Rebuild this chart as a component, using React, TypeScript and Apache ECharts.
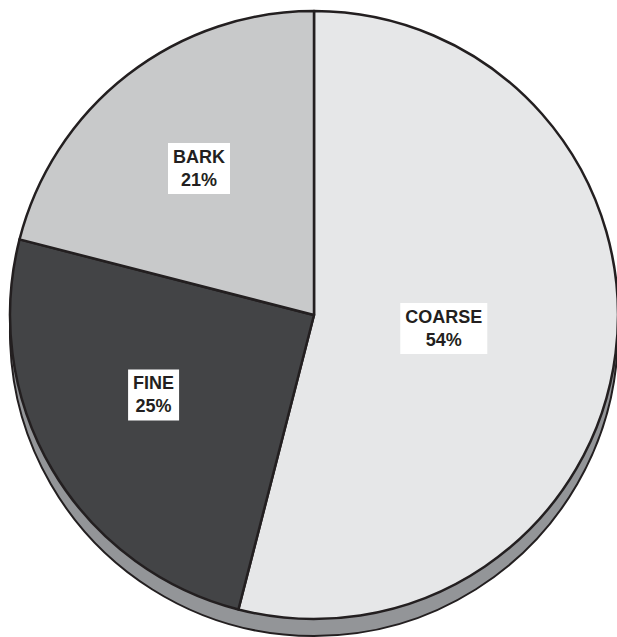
import React, { useEffect, useRef } from "react";
import * as echarts from "echarts";

const categories = ["COARSE", "FINE", "BARK"];
const values = [54, 25, 21];
const colors = ["#e6e7e8", "#434446", "#c8c9ca"];
const labelShift = [
  [-24, -6],
  [-27, 1],
  [-20, -24],
];

export default function App() {
  const ref = useRef<HTMLDivElement>(null);
  useEffect(() => {
    if (!ref.current) return;
    const chart = echarts.init(ref.current, undefined, { renderer: "svg" });
    const data = categories.map((name, i) => ({
      name,
      value: values[i],
      itemStyle: { color: colors[i] },
    }));
    chart.setOption({
      animation: false,
      backgroundColor: "#ffffff",
      series: [
        {
          type: "pie",
          silent: true,
          z: 1,
          center: [314, 332],
          radius: 304,
          startAngle: 90,
          label: { show: false },
          labelLine: { show: false },
          itemStyle: { color: "#939598", borderColor: "#231f20", borderWidth: 2 },
          data: [{ name: "shadow", value: 1 }],
        },
        {
          type: "pie",
          z: 2,
          center: [314, 315],
          radius: 304,
          startAngle: 90,
          clockwise: true,
          itemStyle: { borderColor: "#231f20", borderWidth: 2.5 },
          label: {
            show: true,
            position: "inside",
            formatter: (p: any) => `${p.name}\n${p.value}%`,
            fontFamily: "Liberation Sans, Arial, sans-serif",
            fontWeight: "bold",
            fontSize: 18,
            lineHeight: 23,
            color: "#231f20",
            backgroundColor: "#ffffff",
            padding: [3, 5, 2, 5],
            align: "center",
          },
          labelLayout: (p: any) => ({
            dx: labelShift[p.dataIndex][0],
            dy: labelShift[p.dataIndex][1],
          }),
          labelLine: { show: false },
          emphasis: { disabled: true },
          data,
        },
      ],
    });
    return () => chart.dispose();
  }, []);
  return (
    <div
      ref={ref}
      style={{ position: "fixed", left: 0, top: 0, width: 617, height: 637 }}
    />
  );
}
